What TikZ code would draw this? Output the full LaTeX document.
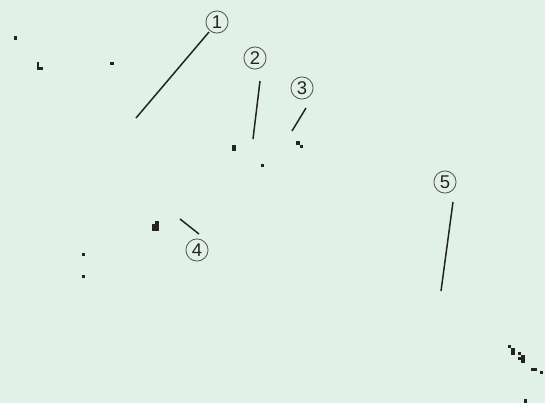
\documentclass[tikz,border=0pt]{standalone}
\usepackage{fontspec}
\setsansfont{Liberation Sans}
\definecolor{bgmint}{RGB}{225,241,231}
\definecolor{inkdark}{RGB}{35,35,35}
\definecolor{ringgray}{RGB}{90,90,90}
\tikzset{
  callout/.style={circle, draw=ringgray, line width=0.5pt, inner sep=0pt,
    minimum size=12.6pt, font=\sffamily\fontsize{10.5}{12}\selectfont, text=inkdark},
  leader/.style={draw=inkdark, line width=0.85pt},
  speck/.style={fill=inkdark}
}
\begin{document}
\begin{tikzpicture}[x=0.02cm, y=-0.02cm]
    % Background
    \fill[bgmint] (0,0) rectangle (545,403);
    \useasboundingbox (0,0) rectangle (545,403);

    % Draw callouts
    \node[callout] (c1) at (217,22) {1};
    \node[callout] (c2) at (255,58) {2};
    \node[callout] (c3) at (302,88) {3};
    \node[callout] (c4) at (197,250) {4};
    \node[callout] (c5) at (445,182) {5};

    % Leader ends
    \coordinate (a1) at (209,32);  \coordinate (b1) at (136,118);
    \coordinate (a2) at (260,81);  \coordinate (b2) at (253,139);
    \coordinate (a3) at (306,108); \coordinate (b3) at (292,131);
    \coordinate (a4) at (199,234); \coordinate (b4) at (180,219);
    \coordinate (a5) at (453,202); \coordinate (b5) at (441,291);

    % Draw leaders
    \draw[leader] (a1) -- (b1);
    \draw[leader] (a2) -- (b2);
    \draw[leader] (a3) -- (b3);
    \draw[leader] (a4) -- (b4);
    \draw[leader] (a5) -- (b5);

    % Specks
    \fill[speck] (14,36) rectangle (17,40);
    \fill[speck] (37,62) rectangle (39,70);
    \fill[speck] (37,67) rectangle (43,70);
    \fill[speck] (110,62) rectangle (114,65);
    \fill[speck] (232,145) rectangle (236,151);
    \fill[speck] (261,164) rectangle (264,167);
    \fill[speck] (296,141) rectangle (300,145);
    \fill[speck] (300,145) rectangle (303,148);
    \fill[speck] (155,221) rectangle (159,231);
    \fill[speck] (152,224) rectangle (159,231);
    \fill[speck] (82,253) rectangle (85,256);
    \fill[speck] (82,275) rectangle (85,278);
    \fill[speck] (508,345) rectangle (511,348);
    \fill[speck] (511,348) rectangle (515,355);
    \fill[speck] (518,352) rectangle (521,355);
    \fill[speck] (518,357) rectangle (521,360);
    \fill[speck] (521,355) rectangle (525,363);
    \fill[speck] (531,368) rectangle (537,371);
    \fill[speck] (540,371) rectangle (543,374);
    \fill[speck] (524,399) rectangle (527,403);
\end{tikzpicture}
\end{document}
